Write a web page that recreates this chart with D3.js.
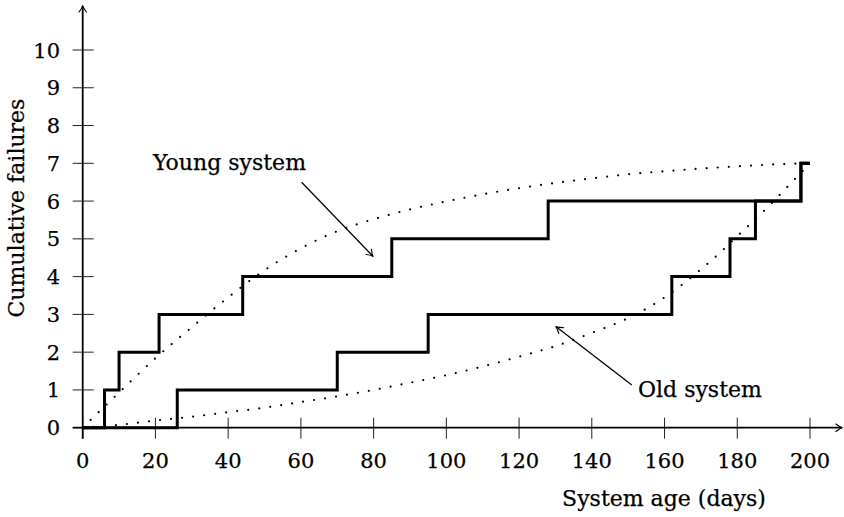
<!DOCTYPE html>
<html>
<head>
<meta charset="utf-8">
<script src="https://cdn.jsdelivr.net/npm/d3@7"></script>
<style>
  html, body { margin: 0; padding: 0; background: #fff; }
  svg { display: block; font-family: "DejaVu Serif", serif; }
  svg text { fill: #000; stroke: #000; stroke-width: 0.25; }
</style>
</head>
<body>
<div id="chart"></div>
<script>
// Step data: day of each failure (cumulative count jumps at that day)
const youngStepDays = [0, 6, 10, 21, 44, 85, 128, 197.5, 200];
const youngStepCounts = [0, 1, 2, 3, 4, 5, 6, 7, 7];
const oldStepDays = [0, 26, 70, 95, 162, 178, 185, 197.5, 200];
const oldStepCounts = [0, 1, 2, 3, 4, 5, 6, 7, 7];

// Dotted trend curves
const youngCurveDays = [0, 10, 20, 30, 40, 50, 60, 70, 80, 90, 100, 110, 120, 130, 140, 150, 160, 170, 180, 190, 200];
const youngCurveValues = [0, 0.93, 1.84, 2.66, 3.45, 4.17, 4.75, 5.2, 5.52, 5.78, 5.99, 6.18, 6.34, 6.48, 6.6, 6.71, 6.79, 6.86, 6.92, 6.97, 7.0];
const oldCurveDays = [0, 10, 20, 30, 40, 50, 60, 70, 80, 90, 100, 110, 120, 130, 140, 150, 155, 160, 165, 170, 175, 180, 185, 190, 195, 200];
const oldCurveValues = [0, 0.075, 0.19, 0.29, 0.41, 0.53, 0.68, 0.83, 1.0, 1.19, 1.39, 1.62, 1.88, 2.16, 2.51, 2.9, 3.15, 3.45, 3.8, 4.19, 4.61, 5.07, 5.52, 6.0, 6.5, 7.0];

const xTicks = [0, 20, 40, 60, 80, 100, 120, 140, 160, 180, 200];
const yTicks = [0, 1, 2, 3, 4, 5, 6, 7, 8, 9, 10];

const width = 844, height = 517;

const svg = d3.select("#chart").append("svg")
  .attr("width", width)
  .attr("height", height);

const x = d3.scaleLinear().domain([0, 200]).range([82.7, 810]);
const y = d3.scaleLinear().domain([0, 10]).range([427.7, 50]);

// LaTeX style open arrow head
const defs = svg.append("defs");
defs.append("marker")
  .attr("id", "arrow")
  .attr("viewBox", "-8 -5 10 10")
  .attr("refX", 0).attr("refY", 0)
  .attr("markerWidth", 10).attr("markerHeight", 10)
  .attr("markerUnits", "userSpaceOnUse")
  .attr("orient", "auto")
  .append("path")
  .attr("d", "M-6.5,-4 Q-2.5,-1 0,0 Q-2.5,1 -6.5,4")
  .attr("fill", "none")
  .attr("stroke", "#000")
  .attr("stroke-width", 1.1);

// --- Axes ---
const axisG = svg.append("g");

// ticks (centred on the axis lines)
axisG.selectAll(".xtick").data(xTicks).enter().append("line")
  .attr("x1", d => x(d)).attr("x2", d => x(d))
  .attr("y1", y(0) - 10).attr("y2", y(0) + 11)
  .attr("stroke", "#222").attr("stroke-width", 1);
axisG.selectAll(".ytick").data(yTicks).enter().append("line")
  .attr("x1", x(0) - 10).attr("x2", x(0) + 11)
  .attr("y1", d => y(d)).attr("y2", d => y(d))
  .attr("stroke", "#222").attr("stroke-width", 1);

axisG.append("line")
  .attr("x1", x(0) - 10).attr("x2", 842)
  .attr("y1", y(0)).attr("y2", y(0))
  .attr("stroke", "#000").attr("stroke-width", 1.8)
  .attr("marker-end", "url(#arrow)");
axisG.append("line")
  .attr("x1", x(0)).attr("x2", x(0))
  .attr("y1", y(0) + 11).attr("y2", 6)
  .attr("stroke", "#000").attr("stroke-width", 1.8)
  .attr("marker-end", "url(#arrow)");

// tick labels
axisG.selectAll(".xlab").data(xTicks).enter().append("text")
  .attr("x", d => x(d))
  .attr("y", 468)
  .attr("text-anchor", "middle")
  .attr("font-size", 21)
  .text(d => d);
axisG.selectAll(".ylab").data(yTicks).enter().append("text")
  .attr("x", 60)
  .attr("y", d => y(d) + 7.5)
  .attr("text-anchor", "end")
  .attr("font-size", 21)
  .text(d => d);

// axis titles
svg.append("text")
  .attr("x", 664).attr("y", 506)
  .attr("text-anchor", "middle")
  .attr("font-size", 22)
  .text("System age (days)");
svg.append("text")
  .attr("transform", "translate(24,208) rotate(-90)")
  .attr("text-anchor", "middle")
  .attr("font-size", 22)
  .text("Cumulative failures");

// --- Dotted trend curves ---
const curveLine = d3.line()
  .x(d => x(d[0]))
  .y(d => y(d[1]))
  .curve(d3.curveMonotoneX);

[[youngCurveDays, youngCurveValues], [oldCurveDays, oldCurveValues]].forEach(([days, vals]) => {
  svg.append("path")
    .datum(days.map((d, i) => [d, vals[i]]))
    .attr("d", curveLine)
    .attr("fill", "none")
    .attr("stroke", "#000")
    .attr("stroke-width", 2.2)
    .attr("stroke-linecap", "round")
    .attr("stroke-dasharray", "0 11.1");
});

// --- Step functions ---
const stepLine = d3.line()
  .x(d => x(d[0]))
  .y(d => y(d[1]))
  .curve(d3.curveStepAfter);

[[youngStepDays, youngStepCounts], [oldStepDays, oldStepCounts]].forEach(([days, counts]) => {
  svg.append("path")
    .datum(days.map((d, i) => [d, counts[i]]))
    .attr("d", stepLine)
    .attr("fill", "none")
    .attr("stroke", "#000")
    .attr("stroke-width", 3)
    .attr("stroke-linejoin", "miter");
});

// --- Annotations ---
svg.append("text")
  .attr("x", 153).attr("y", 170)
  .attr("font-size", 22)
  .text("Young system");
svg.append("line")
  .attr("x1", x(60.2)).attr("y1", y(6.5))
  .attr("x2", x(79.8)).attr("y2", y(4.54))
  .attr("stroke", "#000").attr("stroke-width", 1.3)
  .attr("marker-end", "url(#arrow)");

svg.append("text")
  .attr("x", 638).attr("y", 396.5)
  .attr("font-size", 22)
  .text("Old system");
svg.append("line")
  .attr("x1", x(151)).attr("y1", y(1.13))
  .attr("x2", x(130.2)).attr("y2", y(2.67))
  .attr("stroke", "#000").attr("stroke-width", 1.3)
  .attr("marker-end", "url(#arrow)");
</script>
</body>
</html>
